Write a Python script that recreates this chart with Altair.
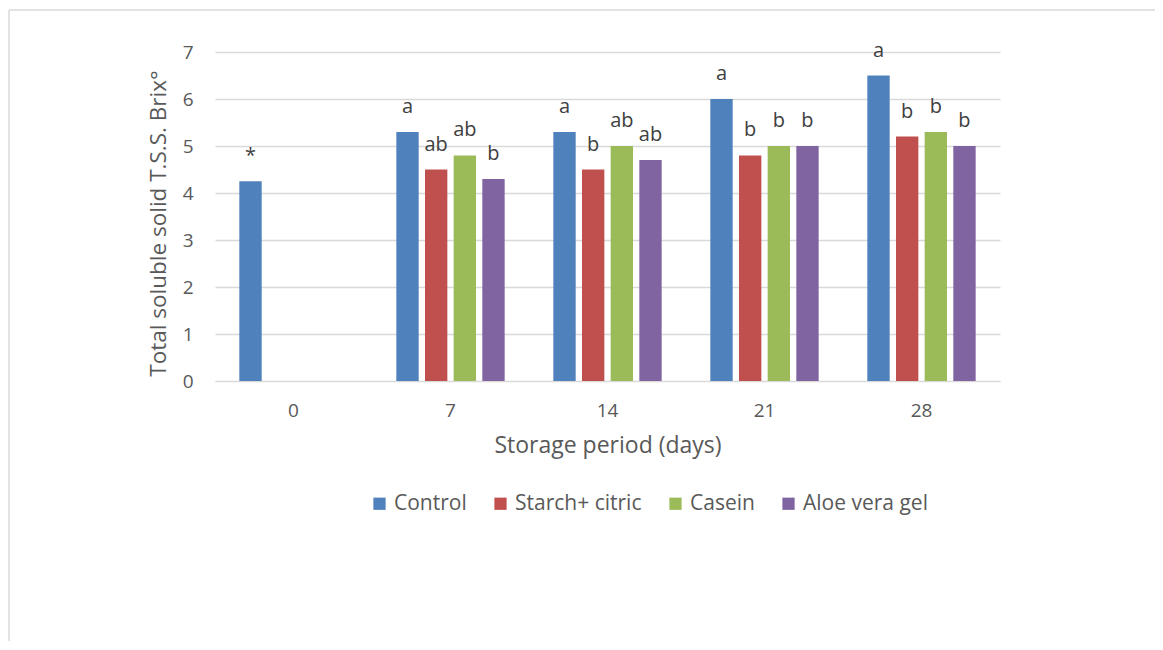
import altair as alt
import pandas as pd

days = ["0", "7", "14", "21", "28"]
series = ["Control", "Starch+ citric", "Casein", "Aloe vera gel"]
colors = ["#4F81BD", "#C0504D", "#9BBB59", "#8064A2"]

control = [4.25, 5.3, 5.3, 6.0, 6.5]
starch = [None, 4.5, 4.5, 4.8, 5.2]
casein = [None, 4.8, 5.0, 5.0, 5.3]
aloe = [None, 4.3, 4.7, 5.0, 5.0]

control_lbl = ["*", "a", "a", "a", "a"]
starch_lbl = [None, "ab", "b", "b", "b"]
casein_lbl = [None, "ab", "ab", "b", "b"]
aloe_lbl = [None, "b", "ab", "b", "b"]

rows = []
for s, vals, lbls in zip(series, [control, starch, casein, aloe],
                         [control_lbl, starch_lbl, casein_lbl, aloe_lbl]):
    for d, v, l in zip(days, vals, lbls):
        if v is not None:
            rows.append({"day": d, "series": s, "value": v, "label": l})
df = pd.DataFrame(rows)

FONT = "Open Sans"
GREY = "#595959"

x_enc = alt.X("day:N", sort=days, title="Storage period (days)",
              scale=alt.Scale(paddingInner=0.31, paddingOuter=0.155),
              axis=alt.Axis(labelAngle=0, ticks=False, domainColor="#d9d9d9",
                            labelPadding=20, titlePadding=14))
xoff = alt.XOffset("series:N", sort=series,
                   scale=alt.Scale(domain=series, paddingInner=0.22, paddingOuter=0))
y_enc = alt.Y("value:Q", title="Total soluble solid T.S.S. Brix°",
              scale=alt.Scale(domain=[0, 7]),
              axis=alt.Axis(values=[0, 1, 2, 3, 4, 5, 6, 7], domain=False, ticks=False,
                            gridColor="#d9d9d9", gridWidth=1.3, labelPadding=22,
                            titlePadding=12, titleFontSize=22.5, titleY=171))

bars = alt.Chart(df).mark_bar().encode(
    x=x_enc, xOffset=xoff, y=y_enc,
    color=alt.Color("series:N", sort=series,
                    scale=alt.Scale(domain=series, range=colors),
                    legend=alt.Legend(title=None, orient="none", direction="horizontal",
                                      legendX=154, legendY=441, symbolType="square",
                                      symbolSize=150, symbolStrokeWidth=0,
                                      labelFontSize=21, labelColor=GREY, labelFont=FONT,
                                      columnPadding=23, labelOffset=4))
)

texts = alt.Chart(df).mark_text(baseline="middle", dy=-25, fontSize=20, font=FONT,
                                color="#404040").encode(
    x=alt.X("day:N", sort=days), xOffset=xoff, y="value:Q", text="label:N"
)

frame = alt.Data(values=[{"k": 1}])
top_line = alt.Chart(frame).mark_rule(color="#d9d9d9", strokeWidth=1.5).encode(
    x=alt.value(-206), x2=alt.value(945), y=alt.value(-42))
left_line = alt.Chart(frame).mark_rule(color="#d9d9d9", strokeWidth=1.5).encode(
    x=alt.value(-206), y=alt.value(-42), y2=alt.value(600))

chart = alt.layer(top_line, left_line, bars, texts).properties(
    width=785, height=329,
    autosize=alt.AutoSizeParams(type="none"),
    padding={"left": 207, "top": 44, "right": 155, "bottom": 260},
).configure_view(stroke=None).configure_axis(
    labelFont=FONT, titleFont=FONT, labelFontSize=19, titleFontSize=23,
    labelColor=GREY, titleColor=GREY, titleFontWeight="normal"
)

chart.save("out.html", embed_options={"renderer": "svg", "actions": False})
